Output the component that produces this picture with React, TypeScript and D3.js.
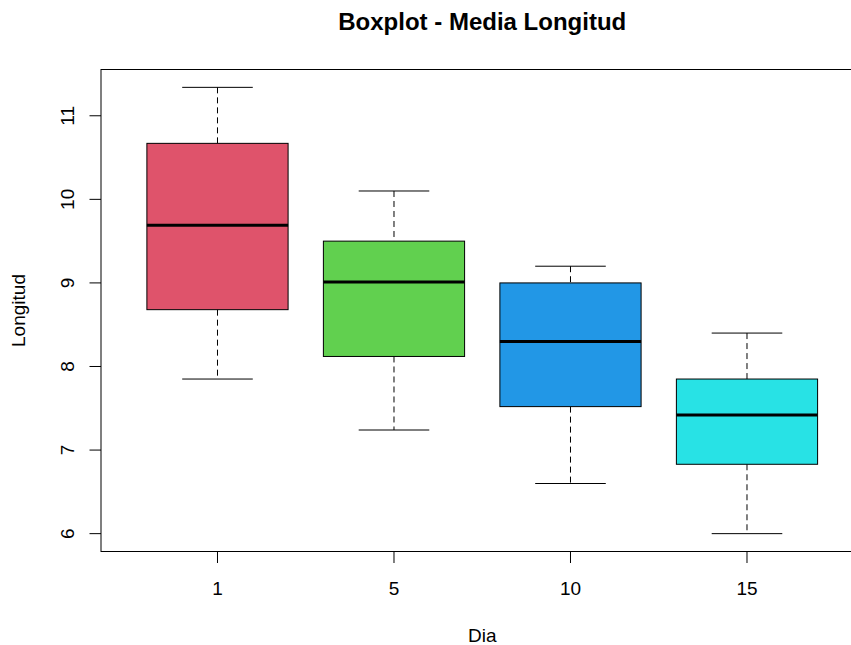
import React from "react";
import * as d3 from "d3";

// Boxplot summary per day (length measurements)
const dias = ["1", "5", "10", "15"];
const whiskerLow = [7.85, 7.24, 6.6, 6.0];
const q1 = [8.68, 8.12, 7.52, 6.83];
const medians = [9.69, 9.01, 8.3, 7.42];
const q3 = [10.67, 9.5, 9.0, 7.85];
const whiskerHigh = [11.34, 10.1, 9.2, 8.4];
const boxColors = ["#DF536B", "#61D04F", "#2297E6", "#28E2E5"];
const yTicks = [6, 7, 8, 9, 10, 11];

const W = 851;
const H = 645;
const FONT = "'Liberation Sans', Arial, sans-serif";

export default function App() {
  const n = dias.length;
  const left = 101;
  const unit = 176.5;
  // R-style 4% range extension around 0.5 .. n + 0.5
  const xPad = 0.04 * n;
  const xDom: [number, number] = [0.5 - xPad, n + 0.5 + xPad];
  const x = d3
    .scaleLinear()
    .domain(xDom)
    .range([left, left + (xDom[1] - xDom[0]) * unit]);

  const lo = d3.min(whiskerLow) as number;
  const hi = d3.max(whiskerHigh) as number;
  const ext = (hi - lo) * 0.04;
  const y = d3.scaleLinear().domain([lo - ext, hi + ext]).range([551.5, 69.5]);

  const boxW = 0.8 * unit;
  const capW = boxW / 2;
  const plotTop = y.range()[1];
  const plotBottom = y.range()[0];
  const plotRight = x.range()[1];

  return (
    <svg
      width={W}
      height={H}
      style={{ position: "absolute", left: 0, top: 0, background: "#fff" }}
      fontFamily={FONT}
    >
      <rect x={0} y={0} width={W} height={H} fill="#fff" />
      {/* title */}
      <text
        x={(left + plotRight) / 2}
        y={30}
        textAnchor="middle"
        fontWeight="bold"
        fontSize={24}
        fill="#000"
      >
        Boxplot - Media Longitud
      </text>

      {/* boxes */}
      {dias.map((d, i) => {
        const cx = x(i + 1);
        return (
          <g key={d}>
            <line
              x1={cx}
              x2={cx}
              y1={y(whiskerHigh[i])}
              y2={y(q3[i])}
              stroke="#000"
              strokeWidth={1}
              strokeDasharray="6,4"
            />
            <line
              x1={cx}
              x2={cx}
              y1={y(q1[i])}
              y2={y(whiskerLow[i])}
              stroke="#000"
              strokeWidth={1}
              strokeDasharray="6,4"
            />
            <line
              x1={cx - capW / 2}
              x2={cx + capW / 2}
              y1={y(whiskerHigh[i])}
              y2={y(whiskerHigh[i])}
              stroke="#000"
              strokeWidth={1}
            />
            <line
              x1={cx - capW / 2}
              x2={cx + capW / 2}
              y1={y(whiskerLow[i])}
              y2={y(whiskerLow[i])}
              stroke="#000"
              strokeWidth={1}
            />
            <rect
              x={cx - boxW / 2}
              y={y(q3[i])}
              width={boxW}
              height={y(q1[i]) - y(q3[i])}
              fill={boxColors[i]}
              stroke="#000"
              strokeWidth={1}
            />
            <line
              x1={cx - boxW / 2}
              x2={cx + boxW / 2}
              y1={y(medians[i])}
              y2={y(medians[i])}
              stroke="#000"
              strokeWidth={3}
            />
          </g>
        );
      })}

      {/* plot frame */}
      <rect
        x={left}
        y={plotTop}
        width={plotRight - left}
        height={plotBottom - plotTop}
        fill="none"
        stroke="#000"
        strokeWidth={1}
      />

      {/* y axis */}
      {yTicks.map((t) => (
        <g key={t}>
          <line x1={left - 11.5} x2={left} y1={y(t)} y2={y(t)} stroke="#000" />
          <text
            transform={`translate(73.5,${y(t)}) rotate(-90)`}
            textAnchor="middle"
            fontSize={19}
            fill="#000"
          >
            {t}
          </text>
        </g>
      ))}

      {/* x axis */}
      {dias.map((d, i) => (
        <g key={d}>
          <line
            x1={x(i + 1)}
            x2={x(i + 1)}
            y1={plotBottom}
            y2={plotBottom + 11.5}
            stroke="#000"
          />
          <text x={x(i + 1)} y={595} textAnchor="middle" fontSize={19} fill="#000">
            {d}
          </text>
        </g>
      ))}

      {/* axis titles */}
      <text x={(left + plotRight) / 2} y={642} textAnchor="middle" fontSize={19} fill="#000">
        Dia
      </text>
      <text
        transform={`translate(25,${(plotTop + plotBottom) / 2}) rotate(-90)`}
        textAnchor="middle"
        fontSize={19}
        fill="#000"
      >
        Longitud
      </text>
    </svg>
  );
}
